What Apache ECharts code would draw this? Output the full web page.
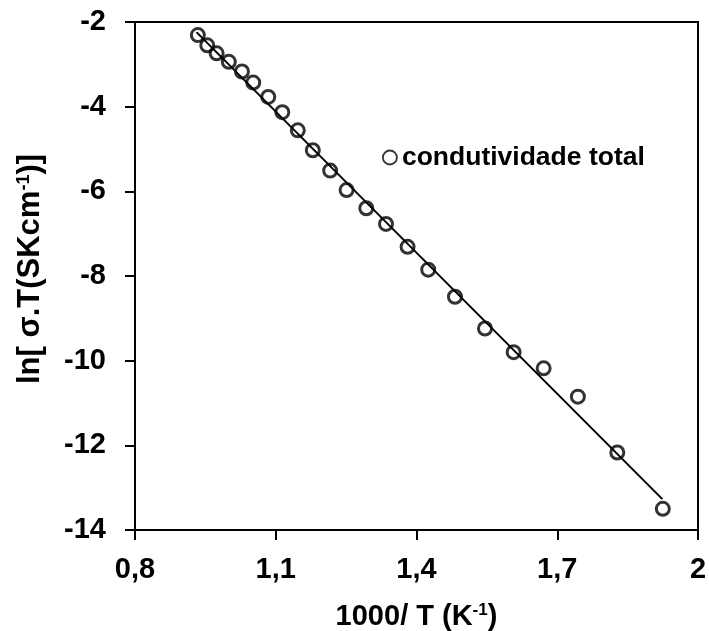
<!DOCTYPE html>
<html><head><meta charset="utf-8">
<script src="https://cdn.jsdelivr.net/npm/echarts@6/dist/echarts.min.js"></script>
<style>html,body{margin:0;padding:0;background:#fff}#c{width:709px;height:631px}</style>
</head><body><div id="c"></div>
<script>
const xTicks = [0.8, 1.1, 1.4, 1.7, 2.0];
const yTicks = [-14, -12, -10, -8, -6, -4, -2];
const xVals = [0.934,0.954,0.974,1.000,1.028,1.052,1.084,1.114,1.147,1.179,1.216,1.251,1.293,1.335,1.381,1.425,1.482,1.546,1.607,1.671,1.744,1.828,1.925];
const yVals = [-2.31,-2.55,-2.74,-2.94,-3.17,-3.43,-3.77,-4.13,-4.56,-5.03,-5.51,-5.97,-6.40,-6.77,-7.31,-7.85,-8.49,-9.24,-9.80,-10.18,-10.85,-12.17,-13.50];
const fitX = [0.931, 1.924];
const fitY = [-2.24, -13.27];
const seriesName = 'condutividade total';

const font = 'Liberation Sans, Arial, sans-serif';
const chart = echarts.init(document.getElementById('c'));
chart.setOption({
  animation: false,
  backgroundColor: '#fff',
  grid: {left: 135, right: 11, top: 22, bottom: 101, outerBoundsMode: 'none', containLabel: false,
    show: true, borderColor: '#000', borderWidth: 2, backgroundColor: 'transparent'},
  legend: {
    data: [{name: seriesName, icon: 'circle', itemStyle: {color: 'transparent', borderColor: '#000', borderWidth: 1.8}}],
    left: 377, top: 139, itemWidth: 14, itemHeight: 14, itemGap: 0,
    textStyle: {fontFamily: font, fontWeight: 'bold', fontSize: 26.5, color: '#000'}
  },
  xAxis: {
    type: 'value', min: 0.8, max: 2.0,
    axisLine: {show: true, onZero: false, lineStyle: {color: '#000', width: 2}},
    axisTick: {show: true, length: 10, customValues: xTicks, lineStyle: {color: '#000', width: 2}},
    axisLabel: {customValues: xTicks, margin: 25, fontFamily: font, fontWeight: 'bold', fontSize: 29, color: '#000',
      formatter: v => (Math.round(v*10)/10).toString().replace('.', ',')},
    splitLine: {show: false},
    name: '{a|1000/ T (K}{s|-1}{a|)}', nameLocation: 'middle', nameGap: 72,
    nameTextStyle: {rich: {
      a: {fontFamily: font, fontWeight: 'bold', fontSize: 29, color: '#000'},
      s: {fontFamily: font, fontWeight: 'bold', fontSize: 17, color: '#000', verticalAlign: 'top', padding: [0,0,12,0]}
    }}
  },
  yAxis: {
    type: 'value', min: -14, max: -2, interval: 2,
    axisLine: {show: true, onZero: false, lineStyle: {color: '#000', width: 2}},
    axisTick: {show: true, length: 10, lineStyle: {color: '#000', width: 2}},
    axisLabel: {margin: 29, fontFamily: font, fontWeight: 'bold', fontSize: 29, color: '#000'},
    splitLine: {show: false},
    name: '{a|ln[ σ.T(SKcm}{s|-1}{a|)]}', nameLocation: 'middle', nameGap: 89, nameRotate: 90,
    nameTextStyle: {padding: [0, 0, 0, 14], rich: {
      a: {fontFamily: font, fontWeight: 'bold', fontSize: 31, color: '#000'},
      s: {fontFamily: font, fontWeight: 'bold', fontSize: 18, color: '#000', verticalAlign: 'top', padding: [0,0,12,0]}
    }}
  },
  series: [
    {type: 'line', name: 'fit', data: fitX.map((x,i) => [x, fitY[i]]), showSymbol: false, symbol: 'none',
     lineStyle: {color: '#000', width: 2}, z: 2},
    {type: 'scatter', name: seriesName, data: xVals.map((x,i) => [x, yVals[i]]), symbol: 'circle', symbolSize: 13,
     itemStyle: {color: 'transparent', borderColor: '#000', borderWidth: 3}, z: 3}
  ]
});
</script></body></html>
